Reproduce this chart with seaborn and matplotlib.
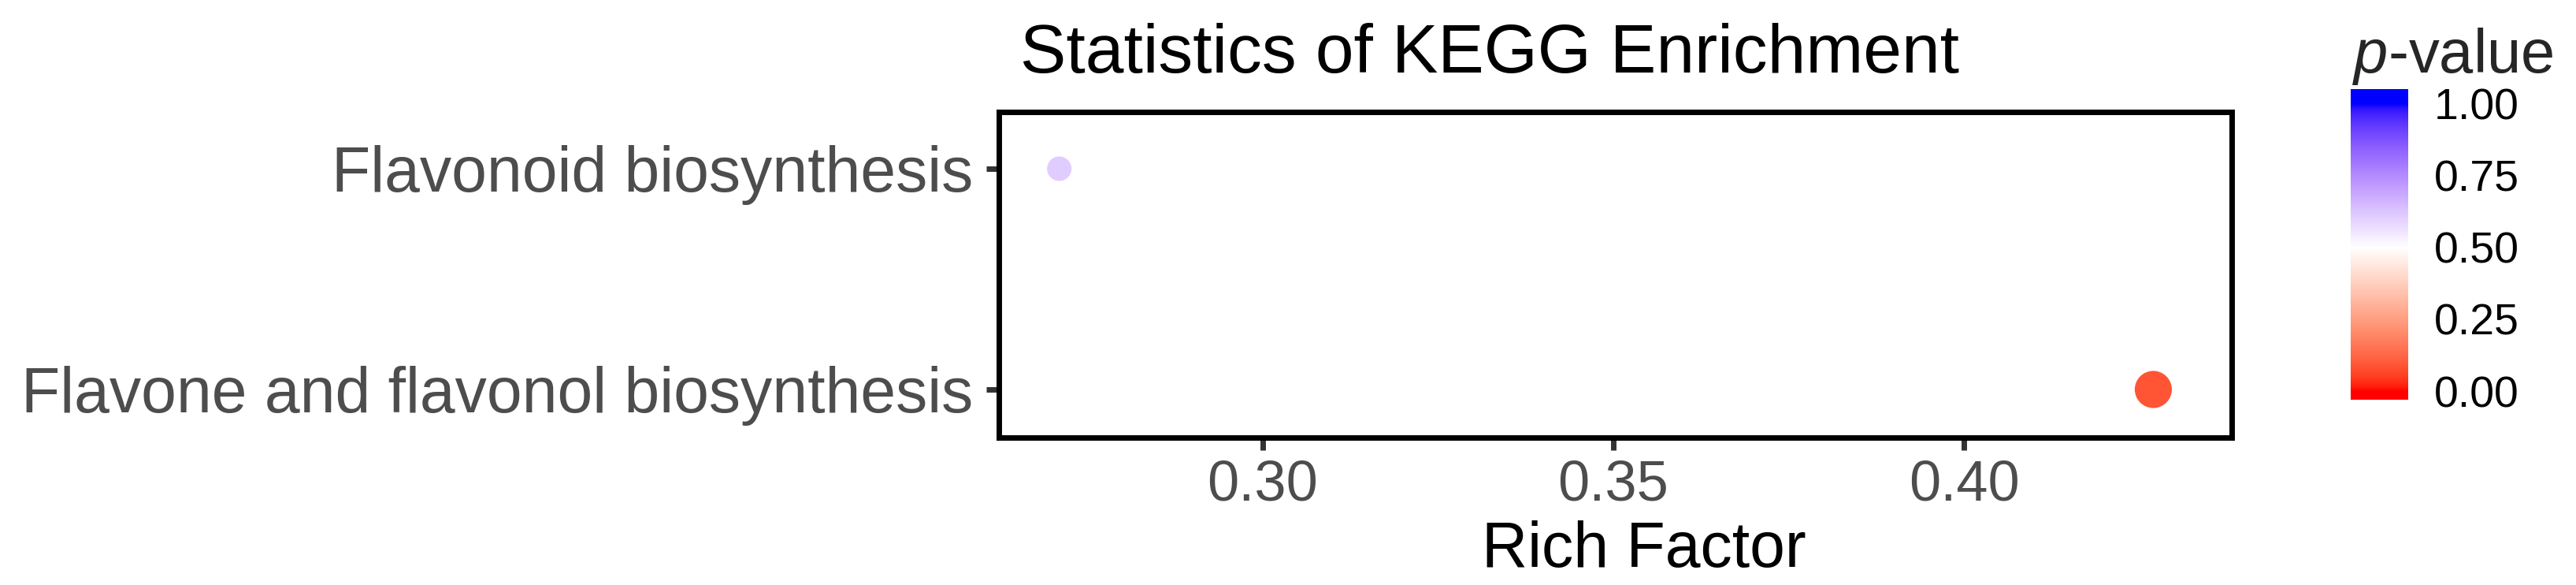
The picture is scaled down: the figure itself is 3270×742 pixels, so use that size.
import numpy as np
import pandas as pd
import seaborn as sns
import matplotlib.pyplot as plt
from matplotlib.colors import ListedColormap, Normalize
from matplotlib.cm import ScalarMappable
from matplotlib.ticker import FormatStrFormatter

# Data
pathways = ["Flavone and flavonol biosynthesis", "Flavonoid biosynthesis"]
rich_factor = [0.427, 0.271]
p_values = [0.09, 0.61]
gene_counts = [3, 2]
x_ticks = [0.30, 0.35, 0.40]
cbar_ticks = [0.00, 0.25, 0.50, 0.75, 1.00]

sns.set_style("white")
plt.rcParams["font.family"] = ["Liberation Sans", "DejaVu Sans"]
plt.rcParams["mathtext.fontset"] = "custom"
plt.rcParams["mathtext.rm"] = "Liberation Sans"
plt.rcParams["mathtext.it"] = "Liberation Sans:italic"

# red -> white -> blue ramp, interpolated in CIELAB like ggplot's gradient2
M = np.array([[0.4124, 0.3576, 0.1805],
              [0.2126, 0.7152, 0.0722],
              [0.0193, 0.1192, 0.9505]])
WHITE = np.array([0.95047, 1.0, 1.08883])


def to_lab(rgb):
    c = np.asarray(rgb, float)
    lin = np.where(c <= 0.04045, c / 12.92, ((c + 0.055) / 1.055) ** 2.4)
    xyz = M @ lin / WHITE
    f = np.where(xyz > (6 / 29) ** 3, np.cbrt(xyz), xyz / (3 * (6 / 29) ** 2) + 4 / 29)
    return np.array([116 * f[1] - 16, 500 * (f[0] - f[1]), 200 * (f[1] - f[2])])


def from_lab(lab):
    fy = (lab[0] + 16) / 116
    f = np.array([fy + lab[1] / 500, fy, fy - lab[2] / 200])
    xyz = np.where(f > 6 / 29, f ** 3, 3 * (6 / 29) ** 2 * (f - 4 / 29)) * WHITE
    lin = np.clip(np.linalg.solve(M, xyz), 0, None)
    c = np.where(lin <= 0.0031308, 12.92 * lin, 1.055 * lin ** (1 / 2.4) - 0.055)
    return np.clip(c, 0, 1)


red, white, blue = to_lab([1, 0, 0]), to_lab([1, 1, 1]), to_lab([0, 0, 1])


def ramp(v):
    if v <= 0.5:
        s = v / 0.5
        return from_lab(red + (white - red) * s)
    s = (v - 0.5) / 0.5
    return from_lab(white + (blue - white) * s)


lo, hi = -0.03, 1.05
cmap = ListedColormap([ramp(v) for v in np.clip(np.linspace(lo, hi, 256), 0, 1)])
norm = Normalize(lo, hi)

df = pd.DataFrame({
    "Pathway": pathways,
    "RichFactor": rich_factor,
    "pvalue": p_values,
    "Count": gene_counts,
})

fig = plt.figure(figsize=(32.7, 7.42), dpi=100)
ax = fig.add_axes([0.3878, 0.2520, 0.4786, 0.5566])

sns.scatterplot(data=df, x="RichFactor", y="Pathway", hue="pvalue", palette=cmap,
                hue_norm=norm, size="Count", sizes=(500, 1150), linewidth=0,
                legend=False, ax=ax)

ax.set_xlim(0.2624, 0.4382)
ax.set_ylim(-0.218, 1.257)
ax.set_xticks(x_ticks)
ax.xaxis.set_major_formatter(FormatStrFormatter("%.2f"))

for s in ax.spines.values():
    s.set_visible(True)
    s.set_color("black")
    s.set_linewidth(5)

ax.tick_params(bottom=True, left=True, length=11.5, width=5, color="#333333",
               labelcolor="#4D4D4D")
ax.tick_params(axis="x", labelsize=52, pad=8)
ax.tick_params(axis="y", labelsize=58, pad=12)

ax.set_ylabel("")
ax.set_xlabel("Rich Factor", fontsize=58, color="black")
ax.xaxis.set_label_coords(0.523, -0.255)
ax.set_title("Statistics of KEGG Enrichment", loc="left", x=0.017, pad=36,
             fontsize=63, color="black")

# colour bar
cax = fig.add_axes([0.9125, 0.3167, 0.0223, 0.531])
cb = fig.colorbar(ScalarMappable(norm=norm, cmap=cmap), cax=cax, ticks=cbar_ticks)
cb.outline.set_visible(False)
cb.ax.yaxis.set_major_formatter(FormatStrFormatter("%.2f"))
cb.ax.tick_params(direction="in", left=True, right=True, color="white",
                  length=11.5, width=2, labelsize=40, pad=24, labelcolor="black")
fig.text(2986 / 3270, 1 - 92 / 742, r"$\mathit{p}$-value", fontsize=56,
         ha="left", va="baseline")

fig.savefig("out.png", dpi=100, facecolor="white")
